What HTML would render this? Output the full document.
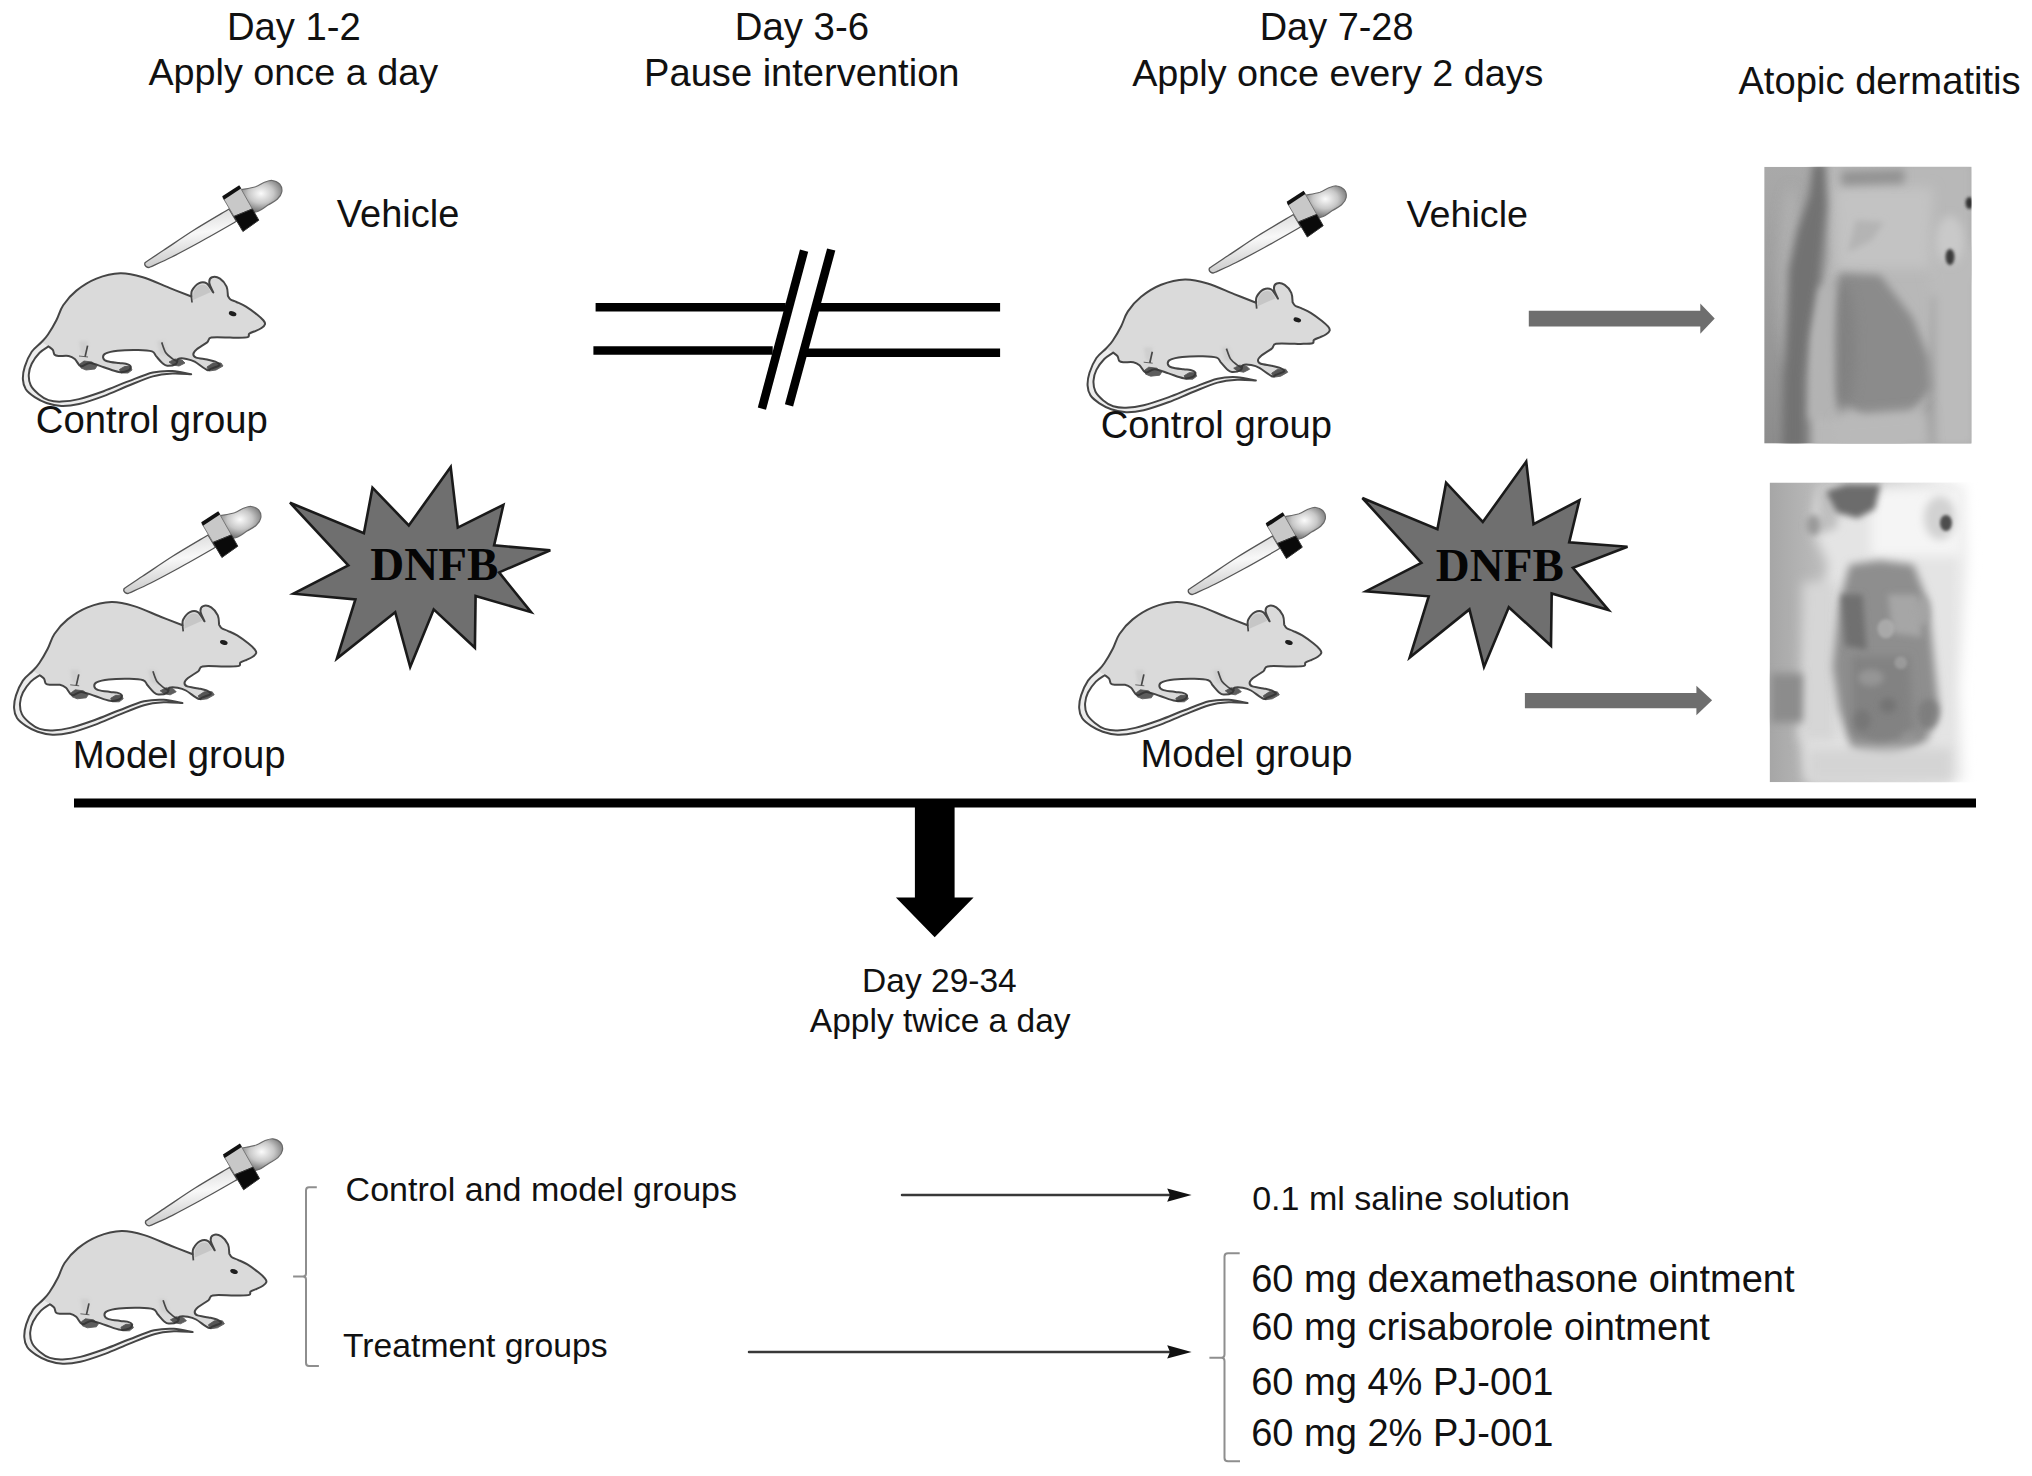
<!DOCTYPE html>
<html><head><meta charset="utf-8"><style>
html,body{margin:0;padding:0;background:#fff;width:2032px;height:1476px;overflow:hidden}
svg{display:block}
text{font-family:"Liberation Sans",sans-serif}
</style></head><body>
<svg width="2032" height="1476" viewBox="0 0 2032 1476">
<defs>
<radialGradient id="bulbg" cx="0.5" cy="0.4" r="0.6"><stop offset="0" stop-color="#fbfbfb"/><stop offset="0.5" stop-color="#c8c8c8"/><stop offset="1" stop-color="#6a6a6a"/></radialGradient>
<linearGradient id="tubeg" x1="0" y1="0" x2="0.2" y2="1"><stop offset="0" stop-color="#d0d0d0"/><stop offset="0.5" stop-color="#f8f8f8"/><stop offset="1" stop-color="#c8c8c8"/></linearGradient>
<g id="mouse">
<path d="M255.0,331.2 C256.1,330.7 259.8,329.2 261.5,328.0 C263.2,326.8 264.7,325.4 265.0,324.2 C265.3,322.9 264.8,322.1 263.5,320.5 C262.2,318.9 259.9,316.8 257.0,314.5 C254.1,312.2 249.4,308.7 246.0,306.6 C242.6,304.5 239.1,303.2 236.5,302.0 C233.9,300.8 231.9,300.5 230.5,299.5 C229.1,298.5 228.3,296.5 227.9,295.9 C227.7,294.3 227.9,289.5 226.6,286.6 C225.3,283.7 222.4,280.2 220.0,278.6 C217.6,277.1 213.8,276.6 212.0,277.3 C210.2,278.0 209.1,280.1 209.3,282.6 C209.5,285.1 212.6,290.9 213.3,292.5 C212.2,291.0 209.1,284.8 206.7,283.3 C204.3,281.8 201.1,282.1 198.7,283.3 C196.2,284.5 193.2,288.4 192.0,290.6 C190.8,292.8 191.5,295.5 191.4,296.5 C187.7,295.1 177.5,291.1 169.4,287.9 C161.3,284.7 151.1,279.7 142.9,277.3 C134.7,274.9 128.1,273.1 120.3,273.3 C112.5,273.5 103.7,275.7 96.4,278.6 C89.1,281.5 81.9,286.2 76.4,290.6 C70.9,295.0 66.5,300.3 63.2,305.2 C59.9,310.1 59.0,315.1 56.5,320.0 C54.0,324.9 50.5,330.8 48.0,334.5 C45.5,338.2 44.3,339.1 41.6,342.0 C38.9,344.9 34.5,347.7 31.7,351.8 C28.9,355.9 26.3,362.0 24.8,366.6 C23.3,371.2 22.7,375.6 22.9,379.4 C23.1,383.2 23.8,386.2 25.8,389.2 C27.8,392.1 31.3,394.8 34.7,397.1 C38.2,399.4 42.1,401.5 46.5,403.0 C50.9,404.5 55.9,405.8 61.3,406.0 C66.7,406.2 72.0,405.6 79.0,404.0 C86.0,402.4 95.4,399.1 103.6,396.1 C111.8,393.1 120.0,389.1 128.2,385.8 C136.4,382.5 145.4,378.4 152.8,376.4 C160.2,374.3 166.1,373.9 172.5,373.5 C178.9,373.1 188.1,374.2 191.2,374.3 C188.1,373.8 178.9,371.3 172.5,371.0 C166.1,370.7 160.2,370.8 152.8,372.5 C145.4,374.2 136.4,378.3 128.2,381.4 C120.0,384.5 111.8,388.2 103.6,391.2 C95.4,394.1 86.0,397.4 79.0,399.1 C72.0,400.8 66.4,401.4 61.3,401.6 C56.2,401.8 52.3,401.3 48.5,400.1 C44.7,398.9 41.6,396.7 38.6,394.2 C35.6,391.7 32.3,388.6 30.7,385.3 C29.1,382.0 28.6,378.1 28.8,374.5 C29.0,370.9 29.9,367.3 31.7,363.7 C33.5,360.1 36.8,355.7 39.6,352.8 C42.4,349.9 47.0,347.5 48.5,346.4 C49.2,347.0 51.8,348.5 52.8,349.9 C53.8,351.3 53.6,353.8 54.6,354.8 C55.6,355.8 56.5,355.8 58.9,356.0 C61.2,356.2 66.0,355.5 68.7,356.0 C71.4,356.5 72.8,357.3 74.8,359.0 C76.8,360.7 78.4,365.6 80.9,366.3 C83.4,367.0 86.2,363.0 90.0,363.1 C93.8,363.2 99.0,365.7 103.8,367.2 C108.6,368.7 114.9,371.4 118.9,372.0 C122.9,372.6 125.9,371.6 127.9,370.7 C129.9,369.8 131.0,367.6 130.7,366.5 C130.3,365.4 127.8,364.4 125.8,363.8 C123.8,363.2 122.0,363.5 118.9,363.1 C115.8,362.7 109.8,362.2 107.2,361.3 C104.6,360.4 103.3,358.9 103.1,357.6 C102.9,356.3 103.4,354.5 105.8,353.4 C108.2,352.2 112.2,351.3 117.6,350.7 C123.0,350.1 132.5,349.9 138.2,350.0 C143.9,350.1 149.0,350.4 152.0,351.4 C155.0,352.4 154.4,354.2 156.1,356.2 C157.8,358.1 160.5,361.5 162.3,363.1 C164.2,364.7 164.9,365.7 167.2,365.8 C169.5,365.9 174.3,365.0 176.1,363.8 C177.9,362.6 176.5,359.7 178.2,358.9 C179.9,358.1 183.8,358.4 186.5,358.9 C189.2,359.4 191.3,359.8 194.7,361.7 C198.1,363.6 204.3,368.9 207.1,370.0 C209.9,371.1 209.2,369.4 211.3,368.6 C213.4,367.8 218.8,366.2 219.5,365.1 C220.2,364.0 217.5,362.6 215.4,361.7 C213.3,360.8 210.3,360.3 207.1,359.6 C203.9,358.9 198.4,358.5 196.1,357.6 C193.8,356.7 193.2,355.5 193.3,354.1 C193.4,352.7 194.5,351.2 196.8,349.3 C199.1,347.4 204.7,344.3 207.1,342.4 C209.5,340.4 207.5,338.4 211.3,337.6 C215.1,336.8 225.9,337.6 230.0,337.6 C234.1,337.6 232.9,337.8 235.9,337.7 C238.9,337.6 245.6,337.8 247.8,337.1 C250.0,336.4 248.0,334.7 249.2,333.7 C250.4,332.7 254.0,331.6 255.0,331.2Z" fill="#ececec" stroke="none"/>
<path d="M255.0,331.2 C256.1,330.7 259.8,329.2 261.5,328.0 C263.2,326.8 264.7,325.4 265.0,324.2 C265.3,322.9 264.8,322.1 263.5,320.5 C262.2,318.9 259.9,316.8 257.0,314.5 C254.1,312.2 249.4,308.7 246.0,306.6 C242.6,304.5 239.1,303.2 236.5,302.0 C233.9,300.8 231.9,300.5 230.5,299.5 C229.1,298.5 228.3,296.5 227.9,295.9 C227.7,294.3 227.9,289.5 226.6,286.6 C225.3,283.7 222.4,280.2 220.0,278.6 C217.6,277.1 213.8,276.6 212.0,277.3 C210.2,278.0 209.1,280.1 209.3,282.6 C209.5,285.1 212.6,290.9 213.3,292.5 C212.2,291.0 209.1,284.8 206.7,283.3 C204.3,281.8 201.1,282.1 198.7,283.3 C196.2,284.5 193.2,288.4 192.0,290.6 C190.8,292.8 191.5,295.5 191.4,296.5 C187.7,295.1 177.5,291.1 169.4,287.9 C161.3,284.7 151.1,279.7 142.9,277.3 C134.7,274.9 128.1,273.1 120.3,273.3 C112.5,273.5 103.7,275.7 96.4,278.6 C89.1,281.5 81.9,286.2 76.4,290.6 C70.9,295.0 66.5,300.3 63.2,305.2 C59.9,310.1 59.0,315.1 56.5,320.0 C54.0,324.9 50.5,330.8 48.0,334.5 C45.5,338.2 42.7,340.8 41.6,342.0 C42.8,342.7 47.4,345.7 48.5,346.4 C49.2,347.0 51.8,348.5 52.8,349.9 C53.8,351.3 53.6,353.8 54.6,354.8 C55.6,355.8 56.5,355.8 58.9,356.0 C61.2,356.2 66.0,355.5 68.7,356.0 C71.4,356.5 72.8,357.3 74.8,359.0 C76.8,360.7 78.4,365.6 80.9,366.3 C83.4,367.0 86.2,363.0 90.0,363.1 C93.8,363.2 99.0,365.7 103.8,367.2 C108.6,368.7 114.9,371.4 118.9,372.0 C122.9,372.6 125.9,371.6 127.9,370.7 C129.9,369.8 131.0,367.6 130.7,366.5 C130.3,365.4 127.8,364.4 125.8,363.8 C123.8,363.2 122.0,363.5 118.9,363.1 C115.8,362.7 109.8,362.2 107.2,361.3 C104.6,360.4 103.3,358.9 103.1,357.6 C102.9,356.3 103.4,354.5 105.8,353.4 C108.2,352.2 112.2,351.3 117.6,350.7 C123.0,350.1 132.5,349.9 138.2,350.0 C143.9,350.1 149.0,350.4 152.0,351.4 C155.0,352.4 154.4,354.2 156.1,356.2 C157.8,358.1 160.5,361.5 162.3,363.1 C164.2,364.7 164.9,365.7 167.2,365.8 C169.5,365.9 174.3,365.0 176.1,363.8 C177.9,362.6 176.5,359.7 178.2,358.9 C179.9,358.1 183.8,358.4 186.5,358.9 C189.2,359.4 191.3,359.8 194.7,361.7 C198.1,363.6 204.3,368.9 207.1,370.0 C209.9,371.1 209.2,369.4 211.3,368.6 C213.4,367.8 218.8,366.2 219.5,365.1 C220.2,364.0 217.5,362.6 215.4,361.7 C213.3,360.8 210.3,360.3 207.1,359.6 C203.9,358.9 198.4,358.5 196.1,357.6 C193.8,356.7 193.2,355.5 193.3,354.1 C193.4,352.7 194.5,351.2 196.8,349.3 C199.1,347.4 204.7,344.3 207.1,342.4 C209.5,340.4 207.5,338.4 211.3,337.6 C215.1,336.8 225.9,337.6 230.0,337.6 C234.1,337.6 232.9,337.8 235.9,337.7 C238.9,337.6 245.6,337.8 247.8,337.1 C250.0,336.4 248.0,334.7 249.2,333.7 C250.4,332.7 254.0,331.6 255.0,331.2Z" fill="#dadada" stroke="none"/>
<path d="M255.0,331.2 C256.1,330.7 259.8,329.2 261.5,328.0 C263.2,326.8 264.7,325.4 265.0,324.2 C265.3,322.9 264.8,322.1 263.5,320.5 C262.2,318.9 259.9,316.8 257.0,314.5 C254.1,312.2 249.4,308.7 246.0,306.6 C242.6,304.5 239.1,303.2 236.5,302.0 C233.9,300.8 231.9,300.5 230.5,299.5 C229.1,298.5 228.3,296.5 227.9,295.9 C227.7,294.3 227.9,289.5 226.6,286.6 C225.3,283.7 222.4,280.2 220.0,278.6 C217.6,277.1 213.8,276.6 212.0,277.3 C210.2,278.0 209.1,280.1 209.3,282.6 C209.5,285.1 212.6,290.9 213.3,292.5 C212.2,291.0 209.1,284.8 206.7,283.3 C204.3,281.8 201.1,282.1 198.7,283.3 C196.2,284.5 193.2,288.4 192.0,290.6 C190.8,292.8 191.5,295.5 191.4,296.5 C187.7,295.1 177.5,291.1 169.4,287.9 C161.3,284.7 151.1,279.7 142.9,277.3 C134.7,274.9 128.1,273.1 120.3,273.3 C112.5,273.5 103.7,275.7 96.4,278.6 C89.1,281.5 81.9,286.2 76.4,290.6 C70.9,295.0 66.5,300.3 63.2,305.2 C59.9,310.1 59.0,315.1 56.5,320.0 C54.0,324.9 50.5,330.8 48.0,334.5 C45.5,338.2 44.3,339.1 41.6,342.0 C38.9,344.9 34.5,347.7 31.7,351.8 C28.9,355.9 26.3,362.0 24.8,366.6 C23.3,371.2 22.7,375.6 22.9,379.4 C23.1,383.2 23.8,386.2 25.8,389.2 C27.8,392.1 31.3,394.8 34.7,397.1 C38.2,399.4 42.1,401.5 46.5,403.0 C50.9,404.5 55.9,405.8 61.3,406.0 C66.7,406.2 72.0,405.6 79.0,404.0 C86.0,402.4 95.4,399.1 103.6,396.1 C111.8,393.1 120.0,389.1 128.2,385.8 C136.4,382.5 145.4,378.4 152.8,376.4 C160.2,374.3 166.1,373.9 172.5,373.5 C178.9,373.1 188.1,374.2 191.2,374.3 C188.1,373.8 178.9,371.3 172.5,371.0 C166.1,370.7 160.2,370.8 152.8,372.5 C145.4,374.2 136.4,378.3 128.2,381.4 C120.0,384.5 111.8,388.2 103.6,391.2 C95.4,394.1 86.0,397.4 79.0,399.1 C72.0,400.8 66.4,401.4 61.3,401.6 C56.2,401.8 52.3,401.3 48.5,400.1 C44.7,398.9 41.6,396.7 38.6,394.2 C35.6,391.7 32.3,388.6 30.7,385.3 C29.1,382.0 28.6,378.1 28.8,374.5 C29.0,370.9 29.9,367.3 31.7,363.7 C33.5,360.1 36.8,355.7 39.6,352.8 C42.4,349.9 47.0,347.5 48.5,346.4 C49.2,347.0 51.8,348.5 52.8,349.9 C53.8,351.3 53.6,353.8 54.6,354.8 C55.6,355.8 56.5,355.8 58.9,356.0 C61.2,356.2 66.0,355.5 68.7,356.0 C71.4,356.5 72.8,357.3 74.8,359.0 C76.8,360.7 78.4,365.6 80.9,366.3 C83.4,367.0 86.2,363.0 90.0,363.1 C93.8,363.2 99.0,365.7 103.8,367.2 C108.6,368.7 114.9,371.4 118.9,372.0 C122.9,372.6 125.9,371.6 127.9,370.7 C129.9,369.8 131.0,367.6 130.7,366.5 C130.3,365.4 127.8,364.4 125.8,363.8 C123.8,363.2 122.0,363.5 118.9,363.1 C115.8,362.7 109.8,362.2 107.2,361.3 C104.6,360.4 103.3,358.9 103.1,357.6 C102.9,356.3 103.4,354.5 105.8,353.4 C108.2,352.2 112.2,351.3 117.6,350.7 C123.0,350.1 132.5,349.9 138.2,350.0 C143.9,350.1 149.0,350.4 152.0,351.4 C155.0,352.4 154.4,354.2 156.1,356.2 C157.8,358.1 160.5,361.5 162.3,363.1 C164.2,364.7 164.9,365.7 167.2,365.8 C169.5,365.9 174.3,365.0 176.1,363.8 C177.9,362.6 176.5,359.7 178.2,358.9 C179.9,358.1 183.8,358.4 186.5,358.9 C189.2,359.4 191.3,359.8 194.7,361.7 C198.1,363.6 204.3,368.9 207.1,370.0 C209.9,371.1 209.2,369.4 211.3,368.6 C213.4,367.8 218.8,366.2 219.5,365.1 C220.2,364.0 217.5,362.6 215.4,361.7 C213.3,360.8 210.3,360.3 207.1,359.6 C203.9,358.9 198.4,358.5 196.1,357.6 C193.8,356.7 193.2,355.5 193.3,354.1 C193.4,352.7 194.5,351.2 196.8,349.3 C199.1,347.4 204.7,344.3 207.1,342.4 C209.5,340.4 207.5,338.4 211.3,337.6 C215.1,336.8 225.9,337.6 230.0,337.6 C234.1,337.6 232.9,337.8 235.9,337.7 C238.9,337.6 245.6,337.8 247.8,337.1 C250.0,336.4 248.0,334.7 249.2,333.7 C250.4,332.7 254.0,331.6 255.0,331.2Z" fill="none" stroke="#454545" stroke-width="2.0" stroke-linejoin="round"/>
<path d="M193.0,300.0 C193.2,298.5 193.0,293.4 194.0,291.0 C195.0,288.6 197.0,286.4 199.0,285.5 C201.0,284.6 204.0,284.4 206.0,285.5 C208.0,286.6 210.2,290.9 211.0,292.0" fill="#bdbdbd" stroke="none" opacity="0.7"/>
<path d="M79,341 L88,341 L86,356 L81,353Z" fill="#c4c4c4" opacity="0.5" filter="url(#bl2)"/>
<path d="M157,341 L164,341 L168,356 L160,354Z" fill="#c4c4c4" opacity="0.5" filter="url(#bl2)"/>
<path d="M191.4,296.5 L192.0,302.5" stroke="#474747" stroke-width="1.7" fill="none"/>
<path d="M87.6,345.6 L85.1,356.6" stroke="#474747" stroke-width="1.7" fill="none"/>
<path d="M161.7,342.4 C162.4,344.1 164.0,349.9 165.8,352.7 C167.6,355.4 170.7,357.3 172.7,358.9 C174.7,360.4 177.1,361.5 178.0,362.0" stroke="#474747" stroke-width="1.7" fill="none"/>
<ellipse cx="232.6" cy="313.7" rx="3.9" ry="2.3" transform="rotate(18 232.6 313.7)" fill="#1e1e1e"/>
<path d="M80,364 l4,-3 l8,1 l5,4 l-2,3 l-9,1 l-5,-2Z M79,356 L88,357 M119.5,369.5 l5,-3 l6,0 l1.5,3.5 l-4,3 l-7,0Z M169,362 l6,-3 l7,1 l3,3 l-6,3 l-6,-1Z M207,367 l6,-4 l8,0 l2,3 l-7,4 l-7,1Z" fill="#353535" stroke="#353535" stroke-width="0.9" opacity="0.8"/>
</g>
<g id="dropper">
<path d="M240.0,190.0 C242.6,189.4 251.5,187.9 255.5,186.7 C259.5,185.4 261.1,183.5 263.9,182.5 C266.7,181.5 269.5,180.2 272.2,180.5 C274.9,180.8 278.2,182.3 279.8,184.2 C281.4,186.1 282.2,189.3 281.8,191.8 C281.4,194.3 279.5,197.1 277.2,199.3 C274.9,201.5 271.1,203.2 268.0,205.1 C264.9,207.0 261.8,209.7 258.8,211.0 C255.8,212.3 251.5,212.7 250.0,213.0Z" fill="url(#bulbg)" stroke="#6a6a6a" stroke-width="1.2"/>
<path d="M145.1,262.6 C148.2,260.6 155.3,255.7 163.5,250.3 C171.7,244.9 183.1,236.9 194.0,230.0 C204.9,223.1 223.2,212.5 229.0,209.0 L236.5,221.3 C230.4,224.8 210.8,236.1 200.0,242.0 C189.2,247.9 180.1,252.8 171.8,257.0 C163.5,261.2 153.7,265.3 150.1,267.0 C148,268.5 143.5,266 145.1,262.6Z" fill="url(#tubeg)" stroke="#555" stroke-width="1.3"/>
<path d="M222.9,197.6 L239.6,186.3 L252.4,208.9 L234.0,216.4Z" fill="#c8c8c8" stroke="#777" stroke-width="1"/>
<path d="M222.2,196.2 L239.2,185.2 L241.0,188.6 L224.0,199.8Z" fill="#111"/>
<path d="M234.0,216.4 L252.4,208.9 L258.8,220.2 L242.9,231.5Z" fill="#0a0a0a" stroke="#333" stroke-width="1"/>
</g>
</defs>
<use href="#mouse"/>
<use href="#dropper"/>
<use href="#mouse" transform="translate(1064.7,6.2)"/>
<use href="#dropper" transform="translate(1064.4,5.5)"/>
<use href="#mouse" transform="translate(-8.8,328.8)"/>
<use href="#dropper" transform="translate(-21,326)"/>
<use href="#mouse" transform="translate(1056.3,328.8)"/>
<use href="#dropper" transform="translate(1043.5,327)"/>
<use href="#mouse" transform="translate(1.4,957.8)"/>
<use href="#dropper" transform="translate(0.7,958.3)"/>
<path d="M290.0,502.7 L363.9,533.3 L372.5,487.7 L408.8,525.4 L450.7,467.1 L457.8,527.6 L503.4,504.8 L494.1,545.4 L550.3,550.3 L499.1,572.4 L531.1,612.2 L475.6,595.9 L474.9,647.8 L433.7,609.4 L410.2,667.0 L395.2,612.2 L336.9,658.5 L355.4,599.4 L293.5,593.7 L348.3,565.3Z" fill="#6f6f6f" stroke="#1a1a1a" stroke-width="2.6" stroke-linejoin="miter"/>
<text x="370.3" y="579.5" style="font-family:'Liberation Serif',serif;font-weight:bold" font-size="47" fill="#050505">DNFB</text>
<path d="M1362.4,498.0 L1437.4,529.3 L1446.1,482.7 L1482.8,522.0 L1526.2,461.6 L1533.5,524.2 L1579.4,500.2 L1569.2,542.4 L1627.5,546.8 L1572.9,567.9 L1608.5,610.1 L1551.7,593.4 L1551.0,645.8 L1508.8,607.2 L1484.0,666.9 L1469.4,609.4 L1409.7,657.5 L1428.7,596.3 L1366.0,591.2 L1421.4,562.8Z" fill="#6f6f6f" stroke="#1a1a1a" stroke-width="2.6" stroke-linejoin="miter"/>
<text x="1435.8" y="581" style="font-family:'Liberation Serif',serif;font-weight:bold" font-size="47" fill="#050505">DNFB</text>
<!-- break lines -->
<g stroke="#000" stroke-width="8.5" fill="none">
<line x1="595.6" y1="307.3" x2="785.7" y2="307.3"/>
<line x1="818.2" y1="307.3" x2="1000.1" y2="307.3"/>
<line x1="593.4" y1="350.6" x2="772.7" y2="350.6"/>
<line x1="805.2" y1="352.8" x2="1000.1" y2="352.8"/>
<line x1="804.1" y1="250.6" x2="761.9" y2="408.6"/>
<line x1="831.2" y1="249.5" x2="789.0" y2="405.4"/>
</g>
<!-- gray arrows -->
<path d="M1528.8,310.7 H1700.3 V303.6 L1714.7,318.6 L1700.3,333.7 V326.4 H1528.8Z" fill="#6e6e6e"/>
<path d="M1524.9,693 H1696.4 V685.7 L1712.1,700.3 L1696.4,715.3 V708.2 H1524.9Z" fill="#6e6e6e"/>
<!-- photos -->

<clipPath id="clip1"><rect x="1764.2" y="166.8" width="207.3" height="276.8"/></clipPath>
<filter id="bl6" x="-50%" y="-50%" width="200%" height="200%"><feGaussianBlur stdDeviation="6"/></filter>
<filter id="bl4" x="-50%" y="-50%" width="200%" height="200%"><feGaussianBlur stdDeviation="4"/></filter>
<filter id="bl3" x="-50%" y="-50%" width="200%" height="200%"><feGaussianBlur stdDeviation="3"/></filter>
<filter id="bl2" x="-50%" y="-50%" width="200%" height="200%"><feGaussianBlur stdDeviation="1.5"/></filter>
<linearGradient id="p1bg" x1="0" y1="0" x2="0" y2="1">
<stop offset="0" stop-color="#a9a9a9"/><stop offset="0.5" stop-color="#9c9c9c"/><stop offset="1" stop-color="#8c8c8c"/></linearGradient>
<g clip-path="url(#clip1)">
<rect x="1764.2" y="166.8" width="207.3" height="276.8" fill="url(#p1bg)"/>
<ellipse filter="url(#bl6)" cx="1790.6" cy="276.9" rx="12.2" ry="91.4" fill="#b0b0b0" opacity="0.9"/>
<polygon filter="url(#bl4)" fill="#b8b8b8" points="1823.2,163.1 1973.5,163.1 1973.5,276.9 1932.9,297.2 1928.8,398.9 1902.4,449.7 1811.0,449.7 1811.0,337.9 1829.3,256.6"/>
<polygon filter="url(#bl6)" fill="#bbbbbb" points="1922.7,246.4 1977.6,246.4 1977.6,449.7 1932.9,449.7 1932.9,297.2"/>
<polygon filter="url(#bl6)" fill="#c3c3c3" points="1835.3,187.5 1932.9,187.5 1928.8,268.8 1837.4,268.8"/>
<polygon filter="url(#bl4)" fill="#727272" points="1813.0,163.1 1825.2,163.1 1827.2,205.8 1823.2,246.4 1819.1,287.1 1811.0,327.7 1804.9,378.5 1804.9,449.7 1782.5,449.7 1783.5,378.5 1786.6,317.6 1788.6,268.8 1796.7,232.2 1808.9,195.6"/>
<polygon filter="url(#bl4)" fill="#8b8b8b" points="1839.4,272.9 1880.1,274.9 1912.6,317.6 1928.8,358.2 1930.9,388.7 1910.5,415.1 1863.8,417.1 1837.4,398.9 1833.3,337.9"/>
<ellipse filter="url(#bl6)" cx="1841.4" cy="348.1" rx="14.2" ry="67.1" fill="#808080" opacity="0.8"/>
<polygon filter="url(#bl4)" fill="#b3b3b3" points="1819.1,287.1 1835.3,285.1 1833.3,419.2 1808.9,419.2 1812.0,337.9"/>
<polygon filter="url(#bl6)" fill="#b9b9b9" points="1837.4,417.1 1928.8,409.0 1932.9,449.7 1835.3,449.7"/>
<polygon filter="url(#bl4)" fill="#939393" points="1841.4,171.3 1904.4,169.2 1904.4,183.4 1841.4,185.5"/>
<polygon filter="url(#bl3)" fill="#b4b4b4" points="1855.7,220.0 1884.1,222.1 1871.9,240.3 1847.5,252.5"/>
<ellipse filter="url(#bl4)" cx="1950" cy="240" rx="14" ry="24" fill="#c9c9c9"/>
<ellipse filter="url(#bl2)" cx="1969.5" cy="203" rx="4" ry="6" fill="#303030"/>
<ellipse filter="url(#bl2)" cx="1950" cy="257" rx="4.5" ry="8" fill="#3a3a3a"/>

</g>

<clipPath id="clip2"><rect x="1769.6" y="482.5" width="225" height="299.7"/></clipPath>
<linearGradient id="p2bg" x1="0" y1="0" x2="1" y2="0">
<stop offset="0" stop-color="#a6a6a6"/><stop offset="0.2" stop-color="#b9b9b9"/><stop offset="0.45" stop-color="#c8c8c8"/><stop offset="0.7" stop-color="#e6e6e6"/><stop offset="0.84" stop-color="#ffffff"/><stop offset="1" stop-color="#ffffff"/></linearGradient>
<linearGradient id="p2fade" x1="0" y1="0" x2="1" y2="0">
<stop offset="0" stop-color="#fff" stop-opacity="0"/><stop offset="1" stop-color="#fff" stop-opacity="1"/></linearGradient>
<g clip-path="url(#clip2)">
<rect x="1769.6" y="482.5" width="225" height="299.7" fill="url(#p2bg)"/>
<polygon filter="url(#bl6)" fill="#e4e4e4" points="1819.7,487.8 1964.8,485.7 1969.1,560.3 1960.5,688.3 1964.8,782.2 1806.9,782.2 1800.5,731.0 1815.5,624.3 1828.3,564.6 1811.2,528.3"/>
<polygon filter="url(#bl6)" fill="#f5f5f5" points="1870.9,489.9 1960.5,487.8 1960.5,556.1 1870.9,556.1"/>
<polygon filter="url(#bl4)" fill="#c0c0c0" points="1817.6,487.8 1841.1,487.8 1836.8,528.3 1817.6,534.7"/>
<polygon filter="url(#bl3)" fill="#6c6c6c" points="1826.3,491.6 1846,484.6 1880.6,484.6 1874.9,508.9 1857.5,518.2 1836.7,512.4"/><ellipse filter="url(#bl4)" cx="1940" cy="518" rx="16" ry="22" fill="#d2d2d2"/>

<ellipse filter="url(#bl3)" cx="1813.3" cy="525.1" rx="7.5" ry="10.7" fill="#9a9a9a" opacity="1"/>
<ellipse filter="url(#bl2)" cx="1946" cy="523" rx="6" ry="8" fill="#4e4e4e"/>
<polygon filter="url(#bl6)" fill="#d6d6d6" points="1802.7,581.7 1836.8,581.7 1836.8,741.7 1800.5,741.7"/>
<polygon filter="url(#bl4)" fill="#8e8e8e" points="1849.6,564.6 1879.5,560.3 1913.6,564.6 1928.5,603.0 1934.9,667.0 1939.2,709.7 1926.4,741.7 1888.0,760.9 1851.7,750.2 1838.9,709.7 1832.5,667.0 1838.9,603.0"/>
<polygon filter="url(#bl3)" fill="#707070" points="1841.1,594.5 1862.4,594.5 1866.7,649.9 1845.3,645.7"/>
<polygon filter="url(#bl4)" fill="#828282" points="1851.7,656.3 1909.3,656.3 1913.6,731.0 1879.5,748.1 1851.7,731.0"/>
<polygon filter="url(#bl3)" fill="#a6a6a6" points="1888.0,594.5 1917.9,594.5 1922.1,637.1 1892.3,632.9"/>
<ellipse filter="url(#bl2)" cx="1885.9" cy="628.6" rx="8.5" ry="9.6" fill="#b0b0b0" opacity="0.8"/>
<ellipse filter="url(#bl3)" cx="1922.1" cy="611.5" rx="7.5" ry="14.9" fill="#a8a8a8" opacity="0.8"/>
<ellipse filter="url(#bl3)" cx="1870.9" cy="677.7" rx="12.8" ry="8.5" fill="#9e9e9e" opacity="0.7"/>
<ellipse filter="url(#bl3)" cx="1888.0" cy="705.4" rx="8.5" ry="7.5" fill="#6e6e6e" opacity="0.7"/>
<ellipse filter="url(#bl3)" cx="1862.4" cy="720.3" rx="8.5" ry="10.7" fill="#727272" opacity="0.7"/>
<ellipse filter="url(#bl3)" cx="1928.5" cy="713.9" rx="10.7" ry="14.9" fill="#7a7a7a" opacity="0.8"/>
<ellipse filter="url(#bl2)" cx="1900.8" cy="662.7" rx="6.4" ry="6.4" fill="#a4a4a4" opacity="0.7"/>
<ellipse filter="url(#bl3)" cx="1909.3" cy="737.4" rx="8.5" ry="6.4" fill="#959595" opacity="0.7"/>
<polygon filter="url(#bl4)" fill="#8c8c8c" points="1770.7,673.4 1802.7,673.4 1802.7,722.5 1770.7,722.5"/>
<polygon filter="url(#bl6)" fill="#d4d4d4" points="1806.9,748.1 1952.0,748.1 1952.0,782.2 1806.9,782.2"/>
<rect x="1950" y="482.5" width="45" height="300" fill="url(#p2fade)"/>
</g>
<!-- main line & arrow -->
<rect x="74" y="798.5" width="1902" height="9" fill="#000"/>
<path d="M914.9,807 H954.6 V897.5 H973.6 L934.7,937.3 L895.9,897.5 H914.9Z" fill="#000"/>
<!-- bottom arrows -->
<g stroke="#383838" stroke-width="2.5" fill="none" stroke-linecap="round">
<line x1="902" y1="1195.1" x2="1172" y2="1195.1"/>
<line x1="749" y1="1351.9" x2="1172" y2="1351.9"/>
</g>
<path d="M1191.6,1195.1 L1167.2,1188.4 L1170,1195.1 L1167.2,1201.8Z" fill="#111"/>
<path d="M1191.6,1351.9 L1167.2,1345.2 L1170,1351.9 L1167.2,1358.6Z" fill="#111"/>
<!-- brackets -->
<g stroke="#8e8e8e" stroke-width="2" fill="none">
<path d="M316.8,1187.2 H309 Q306,1187.2 306,1190.5 V1273.5 Q306,1276.6 303,1276.6 H293.1 H303 Q306,1276.6 306,1279.6 V1362.8 Q306,1366.1 309,1366.1 H318.9"/>
<path d="M1239.7,1253.2 H1228 Q1224.5,1253.2 1224.5,1256.5 V1354.5 Q1224.5,1357.7 1221.5,1357.7 H1209.4 H1221.5 Q1224.5,1357.7 1224.5,1361 V1458 Q1224.5,1461.3 1228,1461.3 H1240"/>
</g>
<text x="226.9" y="40.4" font-size="38.25" fill="#111">Day 1-2</text>
<text x="148.4" y="85.4" font-size="37.77" fill="#111">Apply once a day</text>
<text x="734.7" y="40.2" font-size="38.39" fill="#111">Day 3-6</text>
<text x="644.1" y="86.2" font-size="38.08" fill="#111">Pause intervention</text>
<text x="1259.7" y="40.1" font-size="37.92" fill="#111">Day 7-28</text>
<text x="1132.2" y="85.5" font-size="37.76" fill="#111">Apply once every 2 days</text>
<text x="1738.4" y="94.0" font-size="38.2" fill="#111">Atopic dermatitis</text>
<text x="336.8" y="226.9" font-size="37.99" fill="#111">Vehicle</text>
<text x="1406.4" y="226.5" font-size="37.73" fill="#111">Vehicle</text>
<text x="35.8" y="432.7" font-size="38.29" fill="#111">Control group</text>
<text x="1100.8" y="437.5" font-size="38.19" fill="#111">Control group</text>
<text x="72.7" y="767.8" font-size="38.3" fill="#111">Model group</text>
<text x="1140.5" y="767.4" font-size="38.11" fill="#111">Model group</text>
<text x="862.1" y="992.1" font-size="33.53" fill="#111">Day 29-34</text>
<text x="809.8" y="1031.9" font-size="33.52" fill="#111">Apply twice a day</text>
<text x="345.6" y="1200.9" font-size="34.02" fill="#111">Control and model groups</text>
<text x="343.0" y="1357" font-size="33.7" fill="#111">Treatment groups</text>
<text x="1252.2" y="1210.2" font-size="34.03" fill="#111">0.1 ml saline solution</text>
<text x="1251.2" y="1291.8" font-size="38.04" fill="#111">60 mg dexamethasone ointment</text>
<text x="1251.2" y="1339.8" font-size="38.04" fill="#111">60 mg crisaborole ointment</text>
<text x="1251.2" y="1394.7" font-size="38.04" fill="#111">60 mg 4% PJ-001</text>
<text x="1251.2" y="1445.9" font-size="38.04" fill="#111">60 mg 2% PJ-001</text>
</svg>
</body></html>
